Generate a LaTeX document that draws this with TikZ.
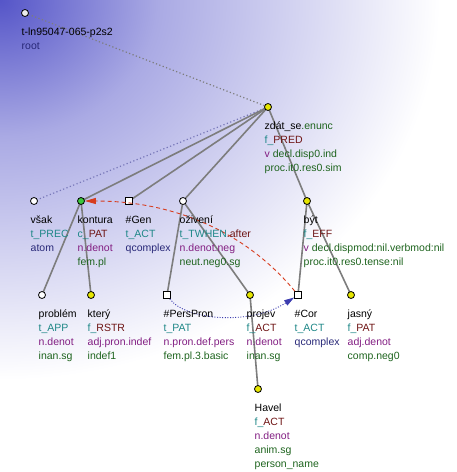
\documentclass[tikz,border=0pt]{standalone}
\usepackage{fontspec}
\setmainfont{Liberation Sans}
\usetikzlibrary{arrows.meta}
\definecolor{cteal}{RGB}{30,135,135}
\definecolor{cmaroon}{RGB}{110,20,20}
\definecolor{cpurple}{RGB}{130,30,130}
\definecolor{cgreen}{RGB}{30,100,30}
\definecolor{cnavy}{RGB}{40,40,120}
\definecolor{bgblue}{RGB}{85,85,200}
\definecolor{midblue}{RGB}{170,170,228}
\definecolor{nyellow}{RGB}{230,230,0}
\definecolor{ngreen}{RGB}{60,200,60}
\definecolor{edgegray}{RGB}{125,125,125}
\definecolor{corred}{RGB}{215,60,30}
\definecolor{corblue}{RGB}{60,60,175}
\definecolor{dotblue}{RGB}{120,120,185}
\pgfdeclareradialshading{bgshade}{\pgfpoint{0bp}{0bp}}{color(0bp)=(bgblue); color(9bp)=(midblue); color(25bp)=(white); color(50bp)=(white)}
\pgfdeclarelayer{bg}
\pgfdeclarelayer{background}
\pgfsetlayers{bg,background,main}
\newcommand{\tc}[2]{\textcolor{#1}{#2}}
\tikzset{
  tcirc/.style={circle, draw=black, line width=0.8pt, minimum size=7pt, inner sep=0pt, fill=white},
  tsq/.style={rectangle, draw=black, line width=0.8pt, minimum size=7pt, inner sep=0pt, fill=white},
  lbl/.style={anchor=north west, align=left, inner sep=0pt, font=\fontsize{10.5}{14}\selectfont, xshift=-3.5pt, yshift=-12.7pt},
  edge/.style={draw=edgegray, line width=1.6pt},
  dotedge/.style={draw=#1, line width=1.2pt, dash pattern=on 1.2pt off 2.4pt},
  coref/.style={draw=corred, line width=0.9pt, dash pattern=on 4pt off 3pt, -{Triangle[length=11pt,width=6pt]}},
  corgram/.style={draw=corblue, line width=0.9pt, dash pattern=on 1pt off 1.6pt, -{Triangle[length=10pt,width=6pt]}}
}
\begin{document}
\begin{tikzpicture}[x=1pt,y=-1pt]
\useasboundingbox (0,0) rectangle (457,472);
\begin{pgfonlayer}{bg}
\clip (0,0) rectangle (457,472);
\shade[shading=bgshade] (0,0) ellipse [x radius=440pt, y radius=380pt];
\end{pgfonlayer}

% tree nodes
\node[tcirc, fill=black!8] (root) at (25,13) {};
\node[tcirc, fill=nyellow] (zdat) at (268,107) {};
\node[tcirc] (vsak) at (34,201) {};
\node[tcirc, fill=ngreen] (kontura) at (81,201) {};
\node[tsq] (gen) at (129,201) {};
\node[tcirc] (ozi) at (183,201) {};
\node[tcirc, fill=nyellow] (byt) at (307,201) {};
\node[tcirc] (problem) at (42,295) {};
\node[tcirc, fill=nyellow] (ktery) at (91,295) {};
\node[tsq] (pers) at (167,295) {};
\node[tcirc, fill=nyellow] (projev) at (250,295) {};
\node[tsq] (cor) at (298,295) {};
\node[tcirc, fill=nyellow] (jasny) at (351,295) {};
\node[tcirc, fill=nyellow] (havel) at (258,389) {};

% edges
\begin{pgfonlayer}{background}
\draw[dotedge=edgegray] (root.center) -- (zdat.center);
\draw[dotedge=dotblue] (zdat.center) -- (vsak.center);
\draw[edge] (zdat.center) -- (kontura.center);
\draw[edge] (zdat.center) -- (gen.center);
\draw[edge] (zdat.center) -- (ozi.center);
\draw[edge] (zdat.center) -- (byt.center);
\draw[edge] (kontura.center) -- (problem.center);
\draw[edge] (kontura.center) -- (ktery.center);
\draw[edge] (ozi.center) -- (pers.center);
\draw[edge] (ozi.center) -- (projev.center);
\draw[edge] (projev.center) -- (havel.center);
\draw[edge] (byt.center) -- (cor.center);
\draw[edge] (byt.center) -- (jasny.center);
\end{pgfonlayer}

% coreference arrows
\draw[coref] (cor) .. controls (246,232) and (174,201) .. (kontura);
\draw[corgram] (pers) .. controls (185,320) and (250,326) .. (cor);

% labels
\node[lbl] (l-root) at (root) {\strut t-ln95047-065-p2s2\\\tc{cnavy}{root}};
\node[lbl] (l-zdat) at (zdat) {\strut zdát\_se\tc{cgreen}{.enunc}\\\tc{cteal}{f\_}\tc{cmaroon}{PRED}\\\tc{cpurple}{v} \tc{cgreen}{decl.disp0.ind}\\\tc{cgreen}{proc.it0.res0.sim}};
\node[lbl] (l-vsak) at (vsak) {\strut však\\\tc{cteal}{t\_PREC}\\\tc{cnavy}{atom}};
\node[lbl] (l-kontura) at (kontura) {\strut kontura\\\tc{cteal}{c\_}\tc{cmaroon}{PAT}\\\tc{cpurple}{n.denot}\\\tc{cgreen}{fem.pl}};
\node[lbl] (l-gen) at (gen) {\strut \#Gen\\\tc{cteal}{t\_ACT}\\\tc{cnavy}{qcomplex}};
\node[lbl] (l-ozi) at (ozi) {\strut oživení\\\tc{cteal}{t\_TWHEN}\tc{cmaroon}{.after}\\\tc{cpurple}{n.denot.neg}\\\tc{cgreen}{neut.neg0.sg}};
\node[lbl] (l-byt) at (byt) {\strut být\\\tc{cteal}{f\_}\tc{cmaroon}{EFF}\\\tc{cpurple}{v} \tc{cgreen}{decl.dispmod:nil.verbmod:nil}\\\tc{cgreen}{proc.it0.res0.tense:nil}};
\node[lbl] (l-problem) at (problem) {\strut problém\\\tc{cteal}{t\_APP}\\\tc{cpurple}{n.denot}\\\tc{cgreen}{inan.sg}};
\node[lbl] (l-ktery) at (ktery) {\strut který\\\tc{cteal}{f\_}\tc{cmaroon}{RSTR}\\\tc{cpurple}{adj.pron.indef}\\\tc{cgreen}{indef1}};
\node[lbl] (l-pers) at (pers) {\strut \#PersPron\\\tc{cteal}{t\_PAT}\\\tc{cpurple}{n.pron.def.pers}\\\tc{cgreen}{fem.pl.3.basic}};
\node[lbl] (l-projev) at (projev) {\strut projev\\\tc{cteal}{f\_}\tc{cmaroon}{ACT}\\\tc{cpurple}{n.denot}\\\tc{cgreen}{inan.sg}};
\node[lbl] (l-cor) at (cor) {\strut \#Cor\\\tc{cteal}{t\_ACT}\\\tc{cnavy}{qcomplex}};
\node[lbl] (l-jasny) at (jasny) {\strut jasný\\\tc{cteal}{f\_}\tc{cmaroon}{PAT}\\\tc{cpurple}{adj.denot}\\\tc{cgreen}{comp.neg0}};
\node[lbl] (l-havel) at (havel) {\strut Havel\\\tc{cteal}{f\_}\tc{cmaroon}{ACT}\\\tc{cpurple}{n.denot}\\\tc{cgreen}{anim.sg}\\\tc{cgreen}{person\_name}};
\end{tikzpicture}
\end{document}
